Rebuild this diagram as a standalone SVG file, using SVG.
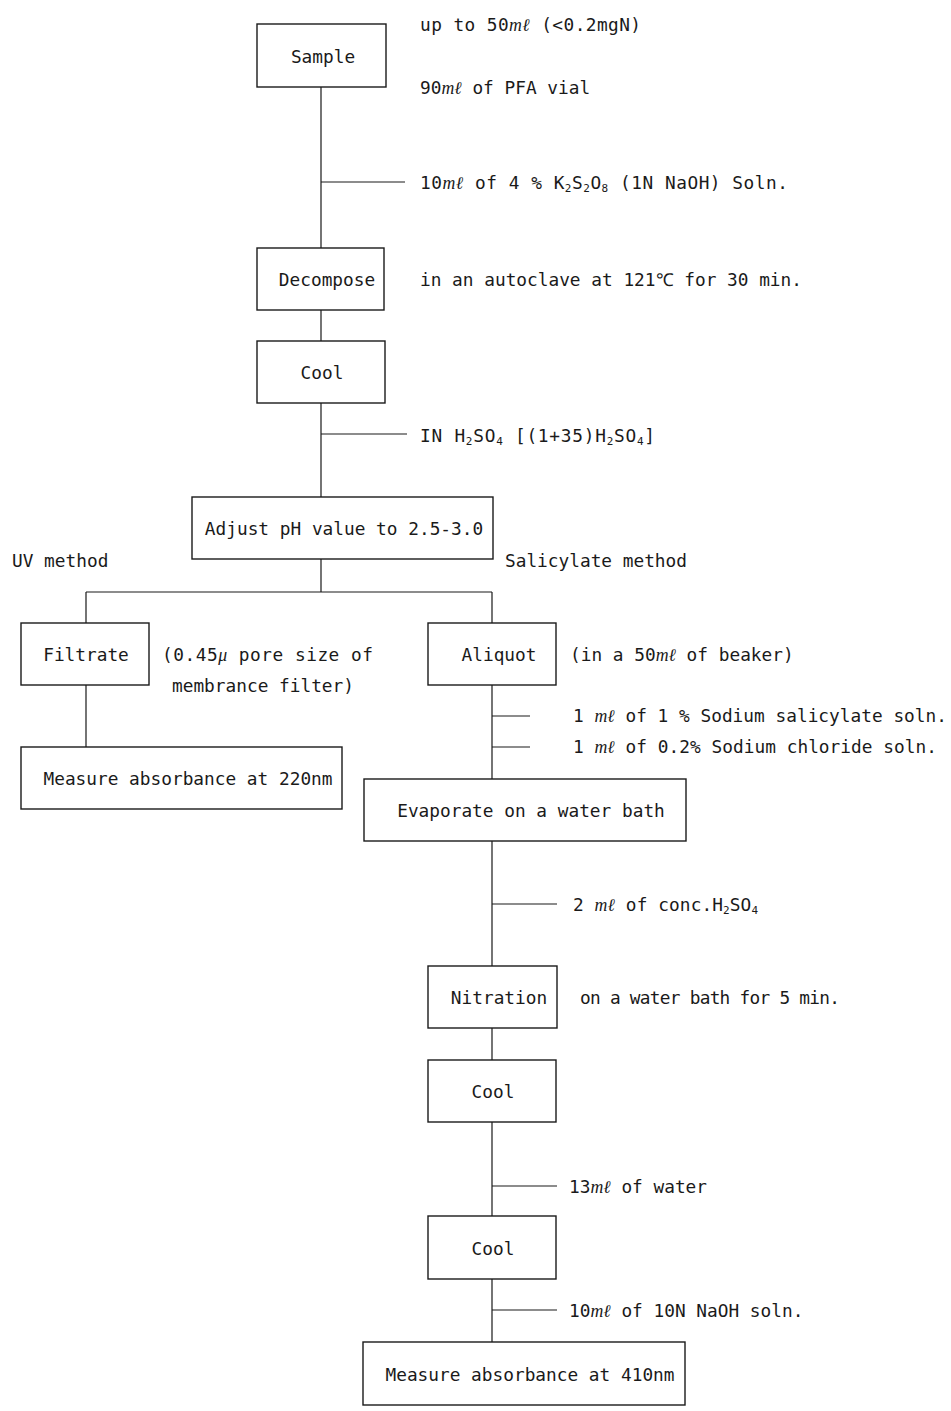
<svg xmlns="http://www.w3.org/2000/svg" width="951" height="1411" viewBox="0 0 951 1411">
<style>
text{font-family:"DejaVu Sans Mono","Liberation Mono",monospace;font-size:17.8px;fill:#1a1a1a}
.m{text-anchor:middle}
.box{fill:#fff;stroke:#1a1a1a;stroke-width:1.4}
.ln{stroke:#1a1a1a;stroke-width:1.2;fill:none}
.i{font-style:italic;font-family:"Liberation Serif",serif}
.s{font-size:11px}
</style>
<rect width="951" height="1411" fill="#fff"/>
<g id="connectors">
<path class="ln" d="M321 87V248M321 182H405M321 310V341M321 403V497M321 434H407M321 559V592M86 592H492M86 592V623M492 592V623M86 685V747M492 685V779M492 716H530M492 747H530M492 841V966M492 904H557M492 1028V1060M492 1122V1216M492 1186H557M492 1279V1342M492 1310H557"/>
</g>
<g id="sample"><rect class="box" x="257" y="24" width="129" height="63"/><text class="m" x="323" y="63">Sample</text></g>
<g id="note-sample"><text x="420" y="31" textLength="221" lengthAdjust="spacing">up to 50<tspan class="i">mℓ</tspan> (&lt;0.2mgN)</text><text x="420" y="94">90<tspan class="i">mℓ</tspan> of PFA vial</text></g>
<g id="note-k2s2o8"><text x="420" y="189" textLength="368" lengthAdjust="spacing">10<tspan class="i">mℓ</tspan> of 4 % K<tspan class="s" dy="3">2</tspan><tspan dy="-3">S</tspan><tspan class="s" dy="3">2</tspan><tspan dy="-3">O</tspan><tspan class="s" dy="3">8</tspan><tspan dy="-3"> (1N NaOH) Soln.</tspan></text></g>
<g id="decompose"><rect class="box" x="257" y="248" width="127" height="62"/><text class="m" x="327" y="286">Decompose</text></g>
<g id="note-autoclave"><text x="420" y="286">in an autoclave at 121℃ for 30 min.</text></g>
<g id="cool1"><rect class="box" x="257" y="341" width="128" height="62"/><text class="m" x="322" y="379">Cool</text></g>
<g id="note-h2so4"><text x="420" y="442" textLength="235" lengthAdjust="spacing">IN H<tspan class="s" dy="3">2</tspan><tspan dy="-3">SO</tspan><tspan class="s" dy="3">4</tspan><tspan dy="-3"> [(1+35)H</tspan><tspan class="s" dy="3">2</tspan><tspan dy="-3">SO</tspan><tspan class="s" dy="3">4</tspan><tspan dy="-3">]</tspan></text></g>
<g id="adjust"><rect class="box" x="192" y="497" width="301" height="62"/><text class="m" x="344" y="535">Adjust pH value to 2.5-3.0</text></g>
<g id="labels-methods"><text x="12" y="567">UV method</text><text x="505" y="567">Salicylate method</text></g>
<g id="filtrate"><rect class="box" x="21" y="623" width="128" height="62"/><text class="m" x="86" y="661">Filtrate</text></g>
<g id="note-filter"><text x="162" y="661" textLength="211" lengthAdjust="spacing">(0.45<tspan class="i">μ</tspan> pore size of</text><text x="172" y="692">membrance filter)</text></g>
<g id="measure220"><rect class="box" x="21" y="747" width="321" height="62"/><text class="m" x="188" y="785">Measure absorbance at 220nm</text></g>
<g id="aliquot"><rect class="box" x="428" y="623" width="128" height="62"/><text class="m" x="499" y="661">Aliquot</text></g>
<g id="note-beaker"><text x="570" y="661">(in a 50<tspan class="i">mℓ</tspan> of beaker)</text></g>
<g id="note-reagents"><text x="573" y="722" textLength="374" lengthAdjust="spacing">1 <tspan class="i">mℓ</tspan> of 1 % Sodium salicylate soln.</text><text x="573" y="753" textLength="364" lengthAdjust="spacing">1 <tspan class="i">mℓ</tspan> of 0.2% Sodium chloride soln.</text></g>
<g id="evaporate"><rect class="box" x="364" y="779" width="322" height="62"/><text class="m" x="531" y="817">Evaporate on a water bath</text></g>
<g id="note-conc"><text x="573" y="911" textLength="185" lengthAdjust="spacing">2 <tspan class="i">mℓ</tspan> of conc.H<tspan class="s" dy="3">2</tspan><tspan dy="-3">SO</tspan><tspan class="s" dy="3">4</tspan></text></g>
<g id="nitration"><rect class="box" x="428" y="966" width="129" height="62"/><text class="m" x="499" y="1004">Nitration</text></g>
<g id="note-nitration"><text x="580" y="1004" textLength="260" lengthAdjust="spacing">on a water bath for 5 min.</text></g>
<g id="cool2"><rect class="box" x="428" y="1060" width="128" height="62"/><text class="m" x="493" y="1098">Cool</text></g>
<g id="note-water"><text x="569" y="1193">13<tspan class="i">mℓ</tspan> of water</text></g>
<g id="cool3"><rect class="box" x="428" y="1216" width="128" height="63"/><text class="m" x="493" y="1255">Cool</text></g>
<g id="note-naoh"><text x="569" y="1317">10<tspan class="i">mℓ</tspan> of 10N NaOH soln.</text></g>
<g id="measure410"><rect class="box" x="363" y="1342" width="322" height="63"/><text class="m" x="530" y="1381">Measure absorbance at 410nm</text></g>
</svg>
